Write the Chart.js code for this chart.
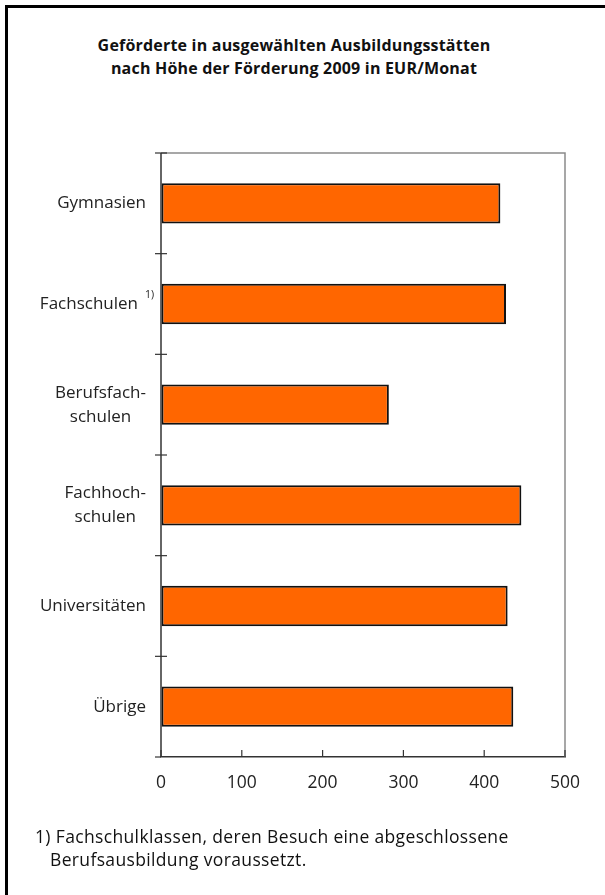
<!DOCTYPE html>
<html>
<head>
<meta charset="utf-8">
<script src="https://cdn.jsdelivr.net/npm/chart.js@4"></script>
<style>
  html, body { margin: 0; padding: 0; background: #fff; }
  #page { position: relative; width: 605px; height: 895px; overflow: hidden; background: #fff; }
  #frameTop { position: absolute; left: 5px; top: 5px; width: 600px; height: 3px; background: #000; }
  #frameLeft { position: absolute; left: 5px; top: 5px; width: 3px; height: 890px; background: #000; }
  #title { position: absolute; left: 0; top: 34px; width: 588px; text-align: center;
           font-family: "Open Sans", sans-serif; font-weight: bold; font-size: 16px; letter-spacing: 0.2px; line-height: 23px; color: #111; }
  #note { position: absolute; left: 35px; top: 825px; font-family: "Open Sans", sans-serif;
          font-size: 17.5px; letter-spacing: 0.35px; line-height: 23px; color: #111; }
  #note .l2 { padding-left: 15px; }
  canvas { position: absolute; left: 0; top: 0; }
</style>
</head>
<body>
<div id="page">
  <div id="frameTop"></div>
  <div id="frameLeft"></div>
  <div id="title">Geförderte in ausgewählten Ausbildungsstätten<br>nach Höhe der Förderung 2009 in EUR/Monat</div>
  <canvas id="c" width="605" height="895"></canvas>
  <div id="note">1) Fachschulklassen, deren Besuch eine abgeschlossene<br><span class="l2">Berufsausbildung voraussetzt.</span></div>
</div>
<script>
const categories = [["Gymnasien"], ["Fachschulen"], ["Berufsfach-", "schulen"], ["Fachhoch-", "schulen"], ["Universitäten"], ["Übrige"]];
const footnoteMarks = ["", "1)", "", "", "", ""];
const values = [420, 427, 282, 446, 429, 436];
const xTicks = [0, 100, 200, 300, 400, 500];

const FONT = '"Open Sans", sans-serif';

const decor = {
  id: 'decor',
  afterDraw(chart) {
    const ctx = chart.ctx;
    const ca = chart.chartArea;
    const xs = chart.scales.x, ys = chart.scales.y;
    ctx.save();
    // top & right frame of plot (gray)
    ctx.strokeStyle = '#8a8a8a';
    ctx.lineWidth = 1.5;
    ctx.beginPath();
    ctx.moveTo(ca.left, ca.top); ctx.lineTo(ca.right, ca.top); ctx.lineTo(ca.right, ca.bottom);
    ctx.stroke();
    // left axis
    ctx.strokeStyle = '#333';
    ctx.lineWidth = 1.5;
    ctx.beginPath();
    ctx.moveTo(ca.left, ca.top); ctx.lineTo(ca.left, ca.bottom);
    ctx.stroke();
    // category boundary ticks
    const n = categories.length;
    const step = ys.getPixelForValue(1) - ys.getPixelForValue(0);
    ctx.lineWidth = 1.2;
    for (let i = 0; i <= n; i++) {
      const y = ys.getPixelForValue(i) - step / 2;
      ctx.beginPath();
      ctx.moveTo(ca.left - 6, y);
      ctx.lineTo(i === n ? ca.left : ca.left + 6, y);
      ctx.stroke();
    }
    // x ticks pointing inward
    xTicks.forEach(v => {
      const x = xs.getPixelForValue(v);
      ctx.beginPath();
      ctx.moveTo(x, ca.bottom); ctx.lineTo(x, ca.bottom - 7);
      ctx.stroke();
    });
    // category labels
    ctx.fillStyle = '#222';
    ctx.font = '17px ' + FONT;
    ctx.textBaseline = 'middle';
    const lh = 24;
    categories.forEach((lines, i) => {
      const yc = ys.getPixelForValue(i);
      const rightEdge = footnoteMarks[i] ? ca.left - 23 : ca.left - 15;
      const widths = lines.map(t => ctx.measureText(t).width);
      const maxW = Math.max(...widths);
      const blockCenter = rightEdge - maxW / 2;
      lines.forEach((t, j) => {
        const y = yc + (j - (lines.length - 1) / 2) * lh;
        ctx.textAlign = 'center';
        ctx.fillText(t, blockCenter, y);
      });
      if (footnoteMarks[i]) {
        ctx.save();
        ctx.font = '10.5px ' + FONT;
        ctx.textAlign = 'left';
        ctx.fillText(footnoteMarks[i], ca.left - 16, yc - 9);
        ctx.restore();
      }
    });
    ctx.restore();
  }
};

new Chart(document.getElementById('c'), {
  type: 'bar',
  data: {
    labels: categories,
    datasets: [{
      data: values,
      backgroundColor: '#ff6600',
      borderColor: '#111',
      borderWidth: 2,
      borderSkipped: false,
      barPercentage: 0.4,
      categoryPercentage: 1.0
    }]
  },
  options: {
    indexAxis: 'y',
    responsive: false,
    animation: false,
    devicePixelRatio: 1,
    layout: { padding: { left: 161, right: 40, top: 153, bottom: 85 } },
    plugins: { legend: { display: false }, tooltip: { enabled: false }, title: { display: false } },
    scales: {
      y: { display: false, offset: true },
      x: {
        min: 0, max: 500,
        afterBuildTicks: s => { s.ticks = xTicks.map(v => ({ value: v })); },
        grid: { display: true, drawOnChartArea: false, drawTicks: false },
        border: { display: true, color: '#333', width: 1.5 },
        ticks: { color: '#222', font: { family: FONT, size: 17.5 }, padding: 16 }
      }
    }
  },
  plugins: [decor]
});
</script>
</body>
</html>
